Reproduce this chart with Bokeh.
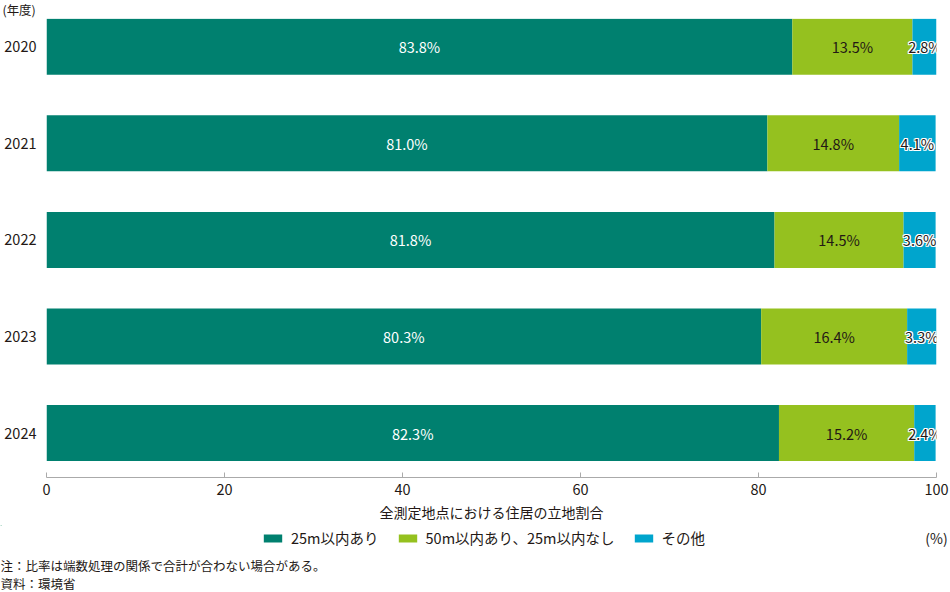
from bokeh.plotting import figure
from bokeh.layouts import column
from bokeh.models import Range1d, Label, Legend, LegendItem, FixedTicker, ColumnDataSource
from bokeh.core.properties import value
from bokeh.embed import file_html
from bokeh.resources import INLINE

years = ["2020", "2021", "2022", "2023", "2024"]
within25 = [83.8, 81.0, 81.8, 80.3, 82.3]
within50 = [13.5, 14.8, 14.5, 16.4, 15.2]
other = [2.8, 4.1, 3.6, 3.3, 2.4]
series_names = ["25m以内あり", "50m以内あり、25m以内なし", "その他"]
x_ticks = [0, 20, 40, 60, 80, 100]
y_unit_label = "(年度)"
x_unit_label = "(%)"
x_title = "全測定地点における住居の立地割合"
notes = ["注：比率は端数処理の関係で合計が合わない場合がある。", "資料：環境省"]

FONT = "Noto Sans CJK JP"
C_TEAL = "#00806f"
C_GREEN = "#95c11f"
C_BLUE = "#00a5cd"
COLORS = [C_TEAL, C_GREEN, C_BLUE]
TXT = "#231815"


def bare_fig(w, h, x0, x1, y0, y1):
    f = figure(width=w, height=h, output_backend="svg", toolbar_location=None,
               x_range=Range1d(x0, x1), y_range=Range1d(y0, y1),
               x_axis_location=None, y_axis_location=None, frame_align=False,
               min_border_left=0, min_border_right=0, min_border_top=0, min_border_bottom=0)
    f.outline_line_color = None
    f.grid.visible = False
    f.border_fill_color = "white"
    return f


# top strip: unit of the category axis
TOP_H = 18
p0 = bare_fig(950, TOP_H, 0, 950, TOP_H, 0)
p0.add_layout(Label(x=2, y=0, text=y_unit_label, text_font=FONT, text_font_size="12.4px",
                    text_color=TXT, text_baseline="top", text_align="left"))

# main chart
ypos = list(range(len(years)))
src = ColumnDataSource(dict(
    y=ypos, a=within25, b=within50, c=other,
    a_lab=[f"{v:.1f}%" for v in within25],
    b_lab=[f"{v:.1f}%" for v in within50],
    c_lab=[f"{v:.1f}%" for v in other],
    a_mid=[v / 2 for v in within25],
    b_mid=[a + b / 2 for a, b in zip(within25, within50)],
    c_mid=[a + b + c / 2 for a, b, c in zip(within25, within50, other)],
))

Y_TOP = -0.292
Y_BOT = 4.46
p = figure(width=950, height=525 - TOP_H, output_backend="svg", toolbar_location=None,
           x_range=Range1d(0, 100), y_range=Range1d(Y_BOT, Y_TOP), frame_align=False,
           min_border_left=46, min_border_right=14, min_border_top=0, min_border_bottom=48)
p.outline_line_color = None
p.xgrid.visible = False
p.ygrid.visible = False
p.background_fill_color = "white"
p.border_fill_color = "white"

p.hbar_stack(["a", "b", "c"], y="y", height=0.58, source=src,
             color=COLORS, line_color=None)

FS = "14.5px"
p.text(x="a_mid", y="y", text="a_lab", source=src, text_color="white",
       text_font=value(FONT), text_font_size=FS, text_align="center", text_baseline="middle")
p.text(x="b_mid", y="y", text="b_lab", source=src, text_color=TXT,
       text_font=value(FONT), text_font_size=FS, text_align="center", text_baseline="middle")
for dx, dy in [(-1, 0), (1, 0), (0, -1), (0, 1), (-1, -1), (1, 1), (-1, 1), (1, -1)]:
    p.text(x="c_mid", y="y", text="c_lab", source=src, text_color="white",
           x_offset=dx, y_offset=dy,
           text_font=value(FONT), text_font_size=FS, text_align="center", text_baseline="middle")
p.text(x="c_mid", y="y", text="c_lab", source=src, text_color=TXT,
       text_font=value(FONT), text_font_size=FS, text_align="center", text_baseline="middle")

# x axis
xa = p.xaxis[0]
xa.ticker = FixedTicker(ticks=x_ticks)
xa.axis_line_color = "#aaaaaa"
xa.major_tick_line_color = "#aaaaaa"
xa.major_tick_in = 5
xa.major_tick_out = 0
xa.minor_tick_line_color = None
xa.major_label_standoff = 6
xa.major_label_text_font = FONT
xa.major_label_text_font_size = "14.5px"
xa.major_label_text_color = TXT
xa.axis_label = x_title
xa.axis_label_text_font = FONT
xa.axis_label_text_font_size = "14px"
xa.axis_label_text_font_style = "normal"
xa.axis_label_text_color = TXT
xa.axis_label_standoff = 4

# y axis
ya = p.yaxis[0]
ya.ticker = FixedTicker(ticks=ypos)
ya.major_label_overrides = {i: y for i, y in enumerate(years)}
ya.axis_line_color = None
ya.major_tick_line_color = None
ya.minor_tick_line_color = None
ya.major_label_standoff = 4
ya.major_label_text_font = FONT
ya.major_label_text_font_size = "14.5px"
ya.major_label_text_color = TXT

# bottom strip: legend, unit, notes
p2 = bare_fig(950, 67, 0, 950, 592, 525)
dummies = [p2.hbar(y=[-100], right=[1], height=1, color=c, line_color=None) for c in COLORS]
legend = Legend(items=[LegendItem(label=n, renderers=[r]) for n, r in zip(series_names, dummies)],
                orientation="horizontal", location=(261, 44),
                glyph_width=23, glyph_height=10, label_standoff=7, spacing=17,
                label_text_font=FONT, label_text_font_size="14.5px", label_text_color=TXT,
                label_height=20,
                border_line_color=None, background_fill_alpha=0, padding=0, margin=0)
p2.add_layout(legend, "center")
p2.add_layout(Label(x=936, y=537, text=x_unit_label, text_font=FONT, text_font_size="14px",
                    text_color=TXT, text_baseline="middle", text_align="center"))
for ny, t in zip([565, 583], notes):
    p2.add_layout(Label(x=0, y=ny, text=t, text_font=FONT, text_font_size="12.5px",
                        text_color=TXT, text_baseline="middle", text_align="left"))

layout = column(p0, p, p2, spacing=0)
open("out.html", "w").write(file_html(layout, INLINE))
